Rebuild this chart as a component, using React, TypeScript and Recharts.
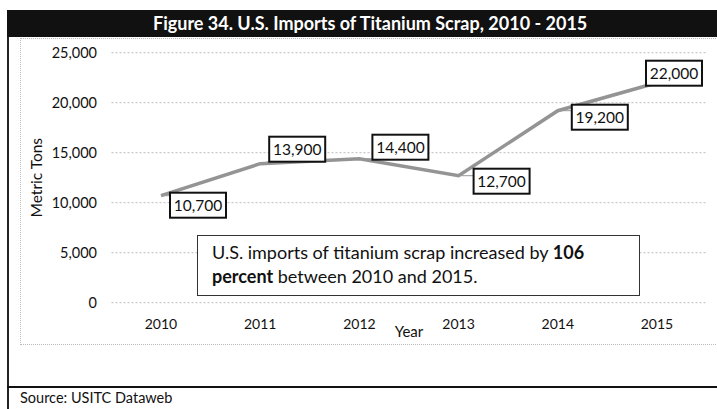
import React from 'react';
import { LineChart, Line, XAxis, YAxis, CartesianGrid, LabelList } from 'recharts';

const years = ['2010', '2011', '2012', '2013', '2014', '2015'];
const imports = [10700, 13900, 14400, 12700, 19200, 22000];
const yTicks = [0, 5000, 10000, 15000, 20000, 25000];
const title = 'Figure 34. U.S. Imports of Titanium Scrap, 2010 - 2015';
const yLabel = 'Metric Tons';
const xLabel = 'Year';
const source = 'Source: USITC Dataweb';
const noteNormal1 = 'U.S. imports of titanium scrap increased by ';
const noteBold1 = '106';
const noteBold2 = 'percent';
const noteNormal2 = ' between 2010 and 2015.';

const data = years.map((year, i) => ({ year, imports: imports[i] }));

// label box offsets relative to each point (layout only)
const labelOffsets: [number, number][] = [
  [9, -3],
  [9, -27],
  [13, -24],
  [15, -7],
  [14, -6],
  [-11, -22],
];

const FONT = 'Lato, "Open Sans", sans-serif';

const fmt = (v: number) => String(v).replace(/\B(?=(\d{3})+(?!\d))/g, ',');

const renderLabel = (props: any) => {
  const { x, y, value, index } = props;
  const [dx, dy] = labelOffsets[index] || [8, -12];
  const w = 56;
  const h = 25;
  const bx = x + dx;
  const by = y + dy;
  const lx = Math.min(Math.max(x, bx), bx + w);
  const ly = Math.min(Math.max(y, by), by + h);
  return (
    <g>
      <line x1={x} y1={y} x2={lx} y2={ly} stroke="#999" strokeWidth={1} />
      <rect x={bx} y={by} width={w} height={h} fill="#fff" stroke="#111" strokeWidth={2} />
      <text
        x={bx + w / 2}
        y={by + h / 2}
        dy="0.36em"
        textAnchor="middle"
        fontSize={15.5}
        fontFamily={FONT}
        fill="#111"
      >
        {fmt(Number(value))}
      </text>
    </g>
  );
};

const renderYLabel = (props: any) => {
  const vb = props.viewBox || { x: 0, y: 52.7, width: 111.5, height: 250 };
  const cx = vb.x + 36;
  const cy = vb.y + vb.height / 2;
  return (
    <text
      x={cx}
      y={cy}
      transform={`rotate(-90, ${cx}, ${cy})`}
      textAnchor="middle"
      dominantBaseline="central"
      fontSize={15.5}
      fontFamily={FONT}
      fill="#111"
    >
      {yLabel}
    </text>
  );
};

const renderXLabel = (props: any) => {
  const vb = props.viewBox || { x: 111.5, y: 302.7, width: 595, height: 30 };
  return (
    <text
      x={vb.x + vb.width / 2}
      y={vb.y + 34}
      textAnchor="middle"
      fontSize={15}
      fontFamily={FONT}
      fill="#111"
    >
      {xLabel}
    </text>
  );
};

export default function App() {
  return (
    <div
      style={{
        position: 'absolute',
        left: 0,
        top: 0,
        width: 717,
        height: 409,
        background: '#fff',
        overflow: 'hidden',
        fontFamily: FONT,
      }}
    >
      {/* outer left border */}
      <div style={{ position: 'absolute', left: 7, top: 10, width: 2, height: 399, background: '#222' }} />
      {/* header bar */}
      <div
        style={{
          position: 'absolute',
          left: 7,
          top: 10,
          width: 710,
          height: 27,
          background: '#111',
        }}
      />
      <div
        style={{
          position: 'absolute',
          left: 153,
          top: 10,
          height: 27,
          lineHeight: '27px',
          color: '#fff',
          fontWeight: 700,
          fontSize: 18,
          whiteSpace: 'nowrap',
        }}
      >
        {title}
      </div>
      {/* inner dotted frame */}
      <div
        style={{
          position: 'absolute',
          left: 20,
          top: 38,
          width: 700,
          height: 305,
          border: '1px dotted #bbb',
        }}
      />
      <div style={{ position: 'absolute', left: 0, top: 0 }}>
        <LineChart
          width={717}
          height={409}
          data={data}
          margin={{ top: 52.7, right: 10.5, bottom: 76.3, left: 0 }}
        >
          <CartesianGrid vertical={false} stroke="#bdbdbd" strokeDasharray="2 2" />
          <XAxis
            dataKey="year"
            axisLine={false}
            tickLine={false}
            tickSize={0}
            tickMargin={16}
            height={30}
            padding={{ left: 49.5, right: 49.5 }}
            tick={{ fontSize: 14, fontFamily: FONT, fill: '#111' }}
            label={renderXLabel}
          />
          <YAxis
            width={111.5}
            domain={[0, 25000]}
            ticks={yTicks}
            interval={0}
            axisLine={false}
            tickLine={false}
            tickSize={0}
            tickMargin={14.5}
            tickFormatter={(v: number) => fmt(v)}
            tick={{ fontSize: 14.5, fontFamily: FONT, fill: '#111' }}
            label={renderYLabel}
          />
          <Line
            type="linear"
            dataKey="imports"
            stroke="#949494"
            strokeWidth={3.5}
            dot={false}
            activeDot={false}
            isAnimationActive={false}
          >
            <LabelList dataKey="imports" content={renderLabel} />
          </Line>
        </LineChart>
      </div>
      {/* annotation box */}
      <div
        style={{
          position: 'absolute',
          left: 197,
          top: 235,
          width: 441,
          height: 59,
          border: '1.5px solid #333',
          background: '#fff',
          boxSizing: 'content-box',
          color: '#111',
          fontSize: 18,
          lineHeight: '24px',
        }}
      >
        <div style={{ position: 'absolute', left: 14, top: 3.5, whiteSpace: 'nowrap' }}>
          {noteNormal1}
          <b>{noteBold1}</b>
          <br />
          <b>{noteBold2}</b>
          {noteNormal2}
        </div>
      </div>
      {/* bottom separator */}
      <div style={{ position: 'absolute', left: 7, top: 386, width: 710, height: 2, background: '#111' }} />
      <div
        style={{
          position: 'absolute',
          left: 20,
          top: 389,
          fontSize: 14.5,
          color: '#111',
          whiteSpace: 'nowrap',
        }}
      >
        {source}
      </div>
    </div>
  );
}
